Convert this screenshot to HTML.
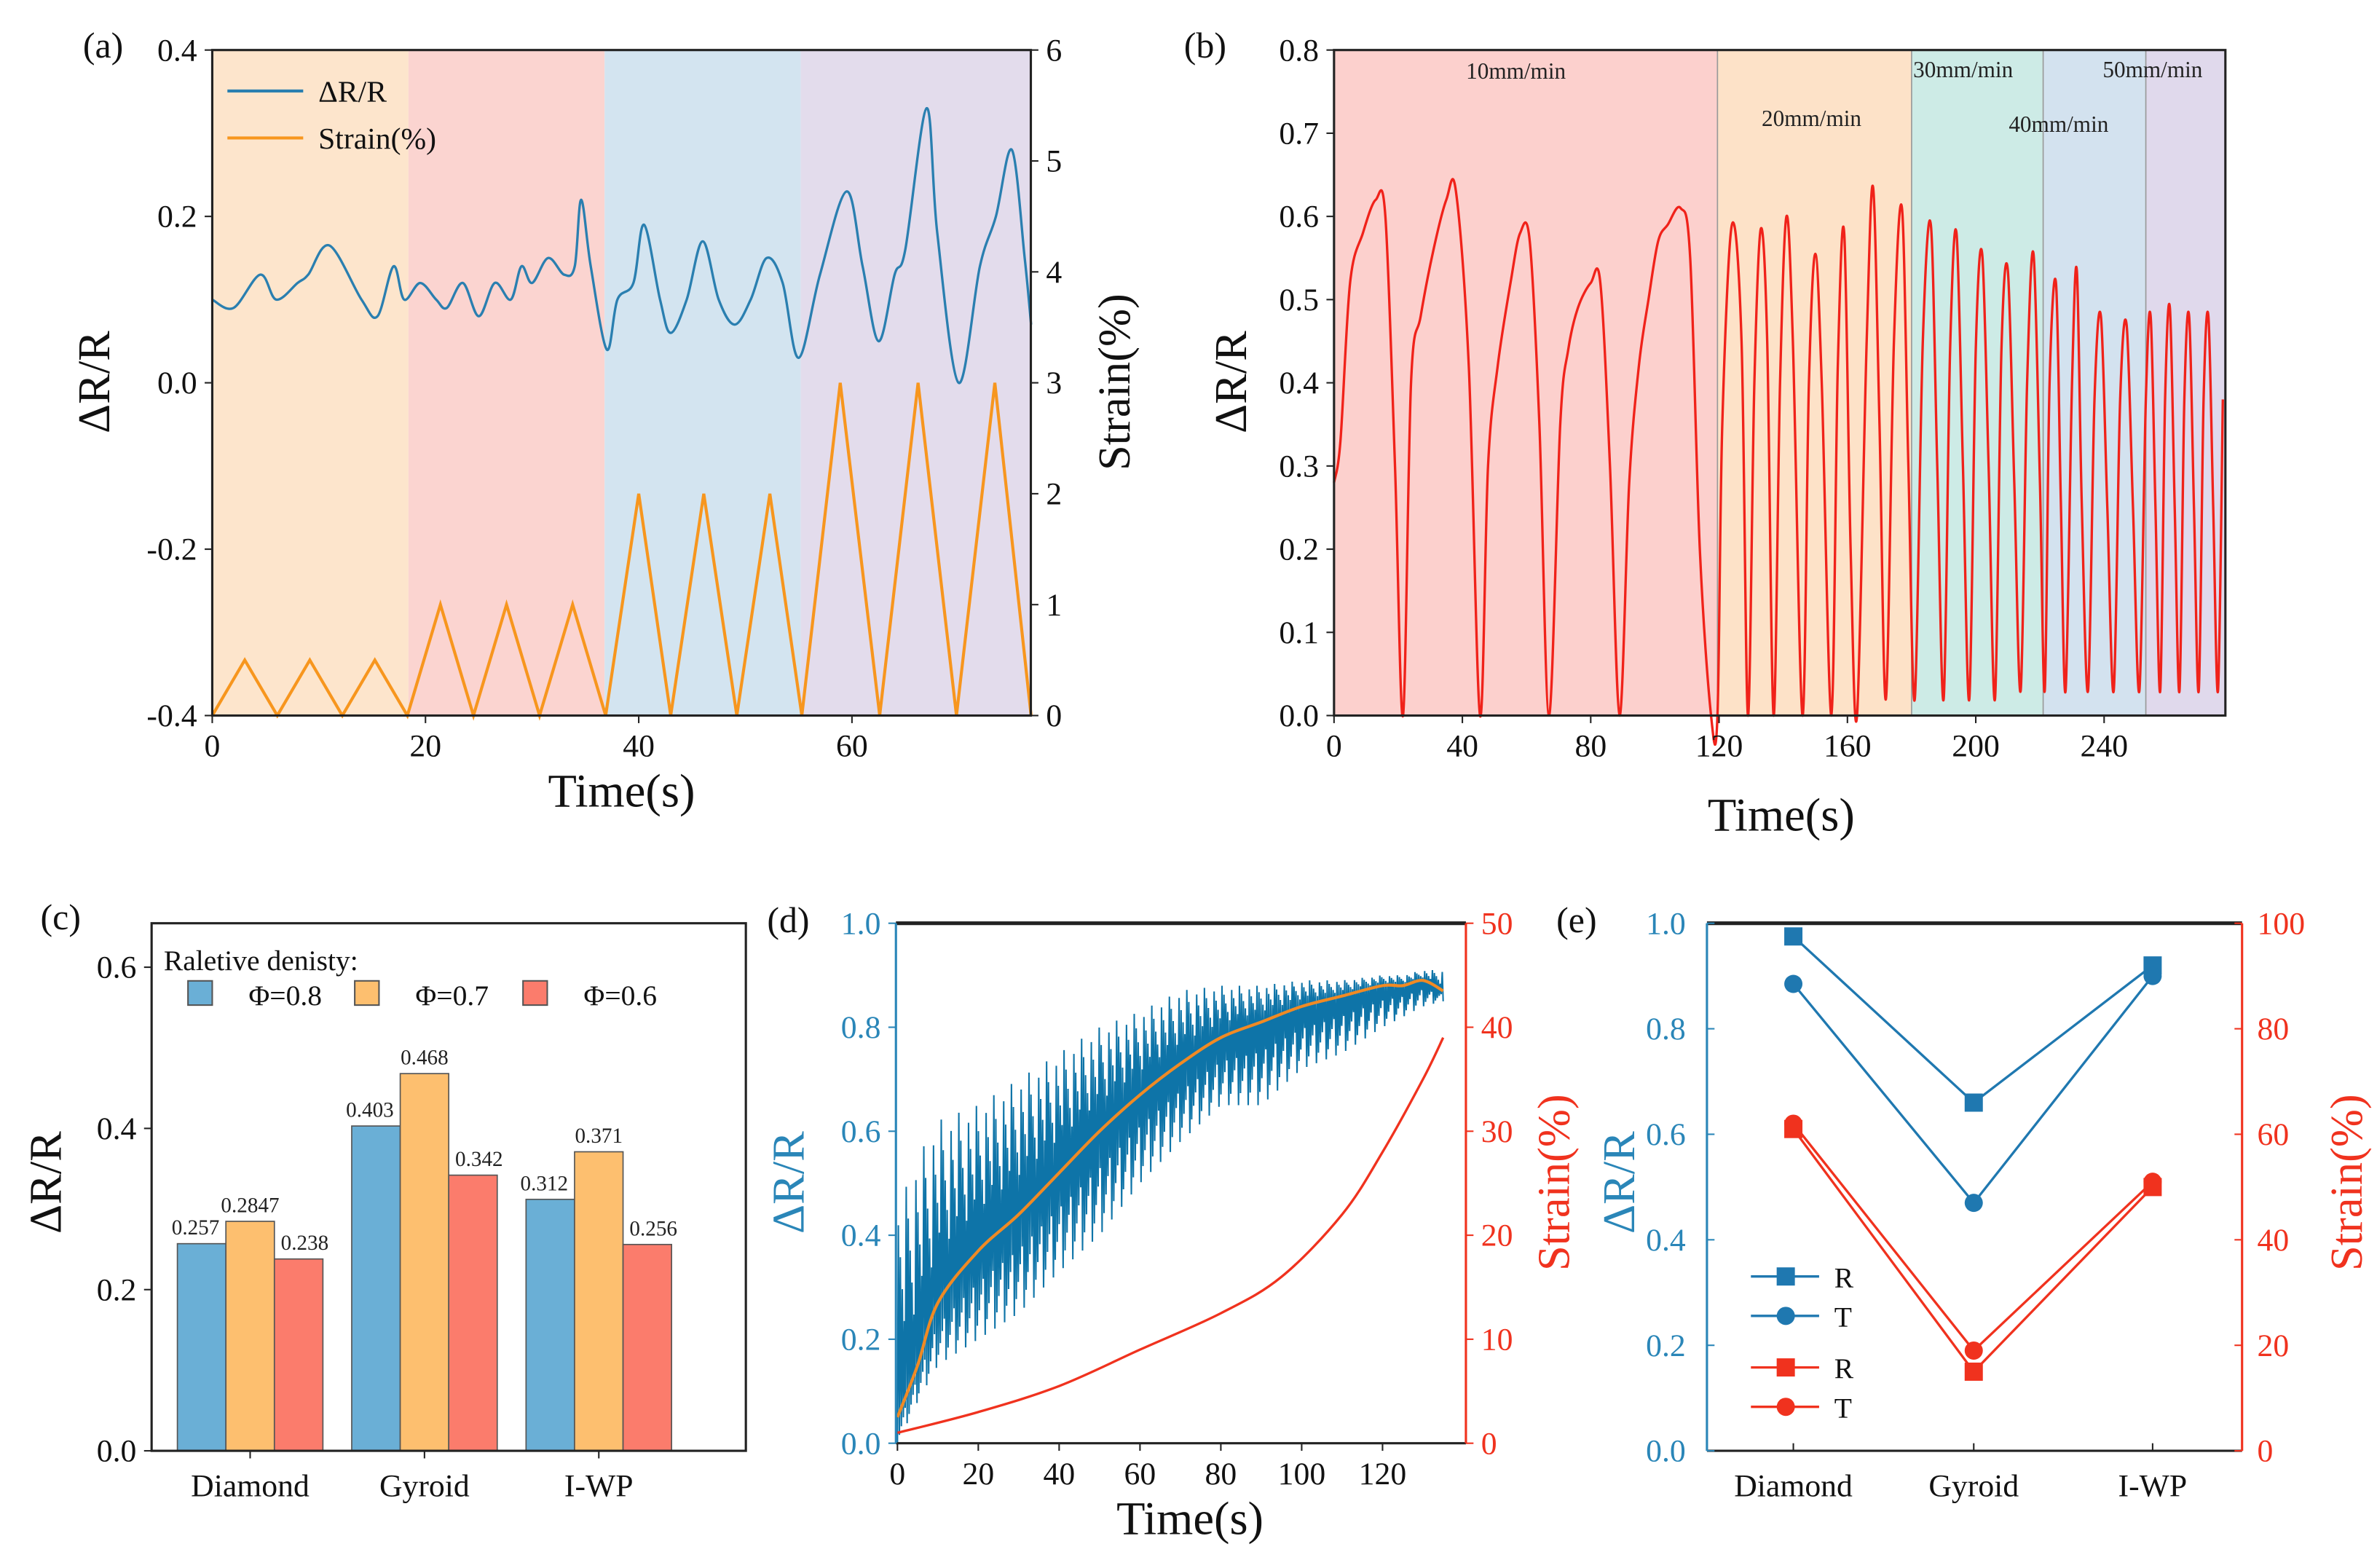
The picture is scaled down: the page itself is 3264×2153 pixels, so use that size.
<!DOCTYPE html>
<html><head><meta charset="utf-8"><style>
html,body{margin:0;padding:0;background:#fff;}
svg{display:block;font-family:"Liberation Serif",serif;}
</style></head><body>
<svg id="fig" xmlns="http://www.w3.org/2000/svg" width="3264" height="2153" viewBox="0 0 1568 1034.3">
<rect width="1568" height="1034.3" fill="#fff"/>
</svg>
<script>
// ---------- DATA ----------
// (a)
const aTimes=[0,2,4.5,6,8,9,11,14,15.5,17,18,19.5,21,22,23.5,25,26.5,28,29,30,31.5,33,34,34.6,35.5,37,38,39.5,40.5,42,43,44.5,46,47.5,49,50.5,52,53.5,55,57,59.5,61,62.5,64,65,67,68,70,72,73.5,75,76.2,76.8];
const aDR=[0.10,0.09,0.13,0.10,0.12,0.13,0.165,0.10,0.08,0.14,0.10,0.12,0.10,0.09,0.12,0.08,0.12,0.10,0.14,0.12,0.15,0.13,0.14,0.22,0.14,0.04,0.10,0.12,0.19,0.10,0.06,0.10,0.17,0.10,0.07,0.10,0.15,0.12,0.03,0.13,0.23,0.14,0.05,0.13,0.16,0.33,0.18,0.00,0.14,0.20,0.28,0.15,0.07];
const aStrainT=[0,3.05,6.1,9.15,12.2,15.25,18.3,21.4,24.5,27.6,30.7,33.8,36.9,40,43,46.1,49.2,52.3,55.3,58.9,62.6,66.2,69.8,73.4,76.8];
const aStrain=[0,0.5,0,0.5,0,0.5,0,1,0,1,0,1,0,2,0,2,0,2,0,3,0,3,0,3,0];
const aBands=[[0,18.4,'#fde5cc'],[18.4,36.8,'#fbd4d0'],[36.8,55.2,'#d3e4f0'],[55.2,76.8,'#e3dcec']];
// (b)
const bTimes=[0,2,5,9,13,16,19,21.5,24,27,31,35,38,42,45.5,48,51,55,58,61,64,67,70.5,73,76,80,83,86,89,92,95,98,101,104,108,111,114,117.5,119.5,121,124,127,129,131,133,135,137,139,141,143,146,148,150,152,155,157,159,161,163,166,168,170,172,174.5,177,179,181,183.5,186,188,190,192,194,196,198,200,202,204,206,208,210,212,214,216,218,220,221.5,223,225,226.5,228,230,231.5,233,235,237,239,241,243,245,247,249,251,253,254.5,256,257.5,259,260.5,262,263.5,265,266.5,268,269.5,271,272.5,274,275.5,277];
const bDR=[0.28,0.33,0.52,0.58,0.62,0.60,0.30,0.0,0.40,0.48,0.56,0.62,0.63,0.42,0.0,0.30,0.42,0.52,0.58,0.57,0.35,0.0,0.35,0.44,0.49,0.52,0.52,0.30,0.0,0.28,0.42,0.50,0.57,0.59,0.61,0.55,0.20,0.0,0.0,0.35,0.59,0.45,0.0,0.40,0.585,0.45,0.0,0.40,0.60,0.45,0.0,0.40,0.555,0.40,0.0,0.42,0.58,0.20,0.0,0.45,0.635,0.35,0.02,0.45,0.61,0.30,0.02,0.45,0.59,0.30,0.02,0.44,0.58,0.30,0.02,0.44,0.555,0.30,0.02,0.44,0.535,0.28,0.03,0.40,0.555,0.28,0.03,0.40,0.52,0.26,0.03,0.40,0.535,0.26,0.03,0.38,0.48,0.25,0.03,0.38,0.47,0.25,0.03,0.38,0.48,0.25,0.03,0.38,0.49,0.25,0.03,0.38,0.48,0.25,0.03,0.38,0.48,0.25,0.03,0.38,0.48,0.28,0.05,0.35,0.45];
const bBands=[[0,119.5,'#fcd0cd'],[119.5,180,'#fde2c8'],[180,221,'#cdebe6'],[221,253,'#d3e2ef'],[253,278,'#e0d9ec']];
const bBandLabels=['10mm/min','20mm/min','30mm/min','40mm/min','50mm/min'];
// (c)
const cCats=['Diamond','Gyroid','I-WP'];
const cPhi08=[0.257,0.403,0.312];
const cPhi07=[0.2847,0.468,0.371];
const cPhi06=[0.238,0.342,0.256];
const cLabels08=['0.257','0.403','0.312'];
const cLabels07=['0.2847','0.468','0.371'];
const cLabels06=['0.238','0.342','0.256'];
// (d)
const dTimes=[0,5,10,20,30,40,50,60,70,80,90,100,110,120,125,130,135];
const dMean=[0.05,0.15,0.27,0.37,0.44,0.52,0.60,0.67,0.73,0.78,0.81,0.84,0.86,0.88,0.88,0.89,0.87];
const dUpper=[0.45,0.55,0.62,0.65,0.70,0.75,0.80,0.83,0.87,0.88,0.88,0.89,0.89,0.90,0.90,0.91,0.91];
const dLower=[0.0,0.08,0.15,0.20,0.25,0.33,0.40,0.50,0.58,0.65,0.65,0.72,0.75,0.80,0.82,0.84,0.85];
const dStrainT=[0,20,40,60,80,95,110,120,130,135];
const dStrain=[1,3,5.5,9,12.5,16,22,28,35,39];
// (e)
const eCats=['Diamond','Gyroid','I-WP'];
const eBlueR=[0.975,0.66,0.92];
const eBlueT=[0.885,0.47,0.90];
const eRedR=[61,15,50];
const eRedT=[62,19,51];

// ---------- HELPERS ----------
const NS='http://www.w3.org/2000/svg';
const svg=document.getElementById('fig');
function el(tag,attrs,parent){const e=document.createElementNS(NS,tag);for(const k in attrs)e.setAttribute(k,attrs[k]);(parent||svg).appendChild(e);return e;}
function txt(x,y,s,size,fill,anchor,parent,rot){const t=el('text',{x:x,y:y,'font-size':size,fill:fill||'#222','text-anchor':anchor||'middle'},parent);if(rot)t.setAttribute('transform','rotate(-90 '+x+' '+y+')');t.textContent=s;return t;}
function lin(d0,d1,r0,r1){return v=>r0+(v-d0)/(d1-d0)*(r1-r0);}
function poly(xs,ys,fx,fy){return xs.map((v,i)=>fx(v).toFixed(2)+','+fy(ys[i]).toFixed(2)).join(' ');}
function smoothPath(xs,ys,fx,fy){let d='M'+fx(xs[0]).toFixed(2)+','+fy(ys[0]).toFixed(2);for(let i=0;i<xs.length-1;i++){const p0=i>0?i-1:i,p3=i+2<xs.length?i+2:i+1;const x0=fx(xs[p0]),y0=fy(ys[p0]),x1=fx(xs[i]),y1=fy(ys[i]),x2=fx(xs[i+1]),y2=fy(ys[i+1]),x3=fx(xs[p3]),y3=fy(ys[p3]);const c1x=x1+(x2-x0)/6,c1y=y1+(y2-y0)/6,c2x=x2-(x3-x1)/6,c2y=y2-(y3-y1)/6;d+=' C'+c1x.toFixed(2)+','+c1y.toFixed(2)+' '+c2x.toFixed(2)+','+c2y.toFixed(2)+' '+x2.toFixed(2)+','+y2.toFixed(2);}return d;}
function interp(xs,ys,x){for(let i=0;i<xs.length-1;i++){if(x<=xs[i+1]){const t=(x-xs[i])/(xs[i+1]-xs[i]);return ys[i]+t*(ys[i+1]-ys[i]);}}return ys[ys.length-1];}

// ---------- PANEL A ----------
(function(){
const g=el('g',{});
const L=140,R=680,T=33,B=472;
const x=lin(0,60,140,562), y=lin(-0.4,0.4,B,T), y2=lin(0,6,B,T);
aBands.forEach(b=>{const r=el('rect',{x:x(b[0]),y:T,width:Math.min(x(b[1]),R)-x(b[0]),height:B-T,fill:b[2]},g);});
const s=el('polyline',{points:poly(aStrainT,aStrain,x,y2),fill:'none',stroke:'#f7961e','stroke-width':2},g);

const d=el('path',{d:smoothPath(aTimes,aDR,x,y),fill:'none',stroke:'#2a7fb0','stroke-width':1.6,'stroke-linejoin':'round'},g);

el('rect',{x:L,y:T,width:R-L,height:B-T,fill:'none',stroke:'#222','stroke-width':1.5},g);
[-0.4,-0.2,0,0.2,0.4].forEach(v=>{el('line',{x1:L,x2:L-5,y1:y(v),y2:y(v),stroke:'#222'},g);txt(L-10,y(v)+7,v.toFixed(1),21,'#111','end',g);});
[0,1,2,3,4,5,6].forEach(v=>{el('line',{x1:R,x2:R+5,y1:y2(v),y2:y2(v),stroke:'#222'},g);txt(R+10,y2(v)+7,String(v),21,'#111','start',g);});
[0,20,40,60].forEach(v=>{el('line',{x1:x(v),x2:x(v),y1:B,y2:B+5,stroke:'#222'},g);txt(x(v),B+27,String(v),21,'#111','middle',g);});
txt(410,532,'Time(s)',31,'#111','middle',g);
txt(72,252,'ΔR/R',30,'#111','middle',g,true);
txt(745,252,'Strain(%)',30,'#111','middle',g,true);
txt(68,38,'(a)',24,'#111','middle',g);
el('line',{x1:150,x2:200,y1:60,y2:60,stroke:'#2a7fb0','stroke-width':2},g);txt(210,67,'ΔR/R',20,'#111','start',g);
el('line',{x1:150,x2:200,y1:91,y2:91,stroke:'#f7961e','stroke-width':2},g);txt(210,98,'Strain(%)',20,'#111','start',g);
})();

// ---------- PANEL B ----------
(function(){
const g=el('g',{});
const L=880,R=1468,T=33,B=472;
const x=lin(0,240,880,1388), y=lin(0,0.8,B,T);
bBands.forEach((b,i)=>{const r=el('rect',{x:x(b[0]),y:T,width:Math.min(x(b[1]),R)-x(b[0]),height:B-T,fill:b[2]},g);
 if(i>0)el('line',{x1:x(b[0]),x2:x(b[0]),y1:T,y2:B,stroke:'#999','stroke-width':0.8},g);});
const lp=[[1000,52],[1195,83],[1295,51],[1358,87],[1420,51]];
bBandLabels.forEach((s,i)=>txt(lp[i][0],lp[i][1],s,15,'#222','middle',g));
const d=el('path',{d:smoothPath(bTimes,bDR,x,y),fill:'none',stroke:'#f0221a','stroke-width':1.6,'stroke-linejoin':'round'},g);

el('rect',{x:L,y:T,width:R-L,height:B-T,fill:'none',stroke:'#222','stroke-width':1.5},g);
for(let v=0;v<=0.8001;v+=0.1){el('line',{x1:L,x2:L-5,y1:y(v),y2:y(v),stroke:'#222'},g);txt(L-10,y(v)+7,v.toFixed(1),21,'#111','end',g);}
[0,40,80,120,160,200,240].forEach(v=>{el('line',{x1:x(v),x2:x(v),y1:B,y2:B+5,stroke:'#222'},g);txt(x(v),B+27,String(v),21,'#111','middle',g);});
txt(1175,548,'Time(s)',31,'#111','middle',g);
txt(822,252,'ΔR/R',30,'#111','middle',g,true);
txt(795,38,'(b)',24,'#111','middle',g);
})();

// ---------- PANEL C ----------
(function(){
const g=el('g',{});
const L=100,R=492,T=609,B=957;
const y=lin(0,0.6,B,638);
const cx=[165,280,395], bw=32;
const series=[[cPhi08,cLabels08,'#6aafd6',-bw],[cPhi07,cLabels07,'#fdbf6f',0],[cPhi06,cLabels06,'#fb7c6c',bw]];
series.forEach(s=>{s[0].forEach((v,i)=>{const r=el('rect',{x:cx[i]+s[3]-bw/2,y:y(v),width:bw,height:B-y(v),fill:s[2],stroke:'#555','stroke-width':0.8},g);
 
 txt(cx[i]+s[3]-(s[3]<0?4:s[3]>0?-4:0),y(v)-6,s[1][i],14,'#222','middle',g);});});
el('rect',{x:L,y:T,width:R-L,height:B-T,fill:'none',stroke:'#222','stroke-width':1.5},g);
[0,0.2,0.4,0.6].forEach(v=>{el('line',{x1:L,x2:L-5,y1:y(v),y2:y(v),stroke:'#222'},g);txt(L-10,y(v)+7,v.toFixed(1),21,'#111','end',g);});
cCats.forEach((c,i)=>{el('line',{x1:cx[i],x2:cx[i],y1:B,y2:B+5,stroke:'#222'},g);txt(cx[i],B+30,c,21,'#111','middle',g);});
txt(40,780,'ΔR/R',30,'#111','middle',g,true);
txt(40,613,'(c)',24,'#111','middle',g);
txt(108,640,'Raletive denisty:',19,'#111','start',g);
[['#6aafd6','Φ=0.8',124],['#fdbf6f','Φ=0.7',234],['#fb7c6c','Φ=0.6',345]].forEach(e=>{el('rect',{x:e[2],y:647,width:16,height:16,fill:e[0],stroke:'#555'},g);txt(e[2]+40,663,e[1],19,'#111','start',g);});
})();

// ---------- PANEL D ----------
(function(){
const g=el('g',{});
const L=591,R=967,T=609,B=952;
const x=lin(0,120,592,912), y=lin(0,1,B,T), y2=lin(0,50,B,T);
let pts=[];const N=560;
for(let i=0;i<=N;i++){const t=135*i/N;const lo=interp(dTimes,dLower,t),mn=interp(dTimes,dMean,t),up=interp(dTimes,dUpper,t);const v=(i%2===0)?lo+((i%10)/10)*0.8*(mn-lo):up-((i%9)/9)*0.8*(up-mn);pts.push(x(t).toFixed(1)+','+y(v).toFixed(1));}
const n=el('polyline',{points:pts.join(' '),fill:'none',stroke:'#0e74a8','stroke-width':1},g);

const m=el('path',{d:smoothPath(dTimes,dMean,x,y),fill:'none',stroke:'#f08a24','stroke-width':2},g);

const s=el('path',{d:smoothPath(dStrainT,dStrain,x,y2),fill:'none',stroke:'#f0321e','stroke-width':1.6},g);

el('line',{x1:L,x2:R,y1:T,y2:T,stroke:'#222','stroke-width':2.5},g);
el('line',{x1:L,x2:R,y1:B,y2:B,stroke:'#222','stroke-width':1.5},g);
el('line',{x1:L,x2:L,y1:T,y2:B,stroke:'#2a86b8','stroke-width':1.5},g);
el('line',{x1:R,x2:R,y1:T,y2:B,stroke:'#f0321e','stroke-width':1.5},g);
[0,0.2,0.4,0.6,0.8,1.0].forEach(v=>{el('line',{x1:L,x2:L-5,y1:y(v),y2:y(v),stroke:'#2a86b8'},g);txt(L-10,y(v)+7,v.toFixed(1),21,'#2a86b8','end',g);});
[0,10,20,30,40,50].forEach(v=>{el('line',{x1:R,x2:R+5,y1:y2(v),y2:y2(v),stroke:'#f0321e'},g);txt(R+10,y2(v)+7,String(v),21,'#f0321e','start',g);});
[0,20,40,60,80,100,120].forEach(v=>{el('line',{x1:x(v),x2:x(v),y1:B,y2:B+5,stroke:'#222'},g);txt(x(v),B+27,String(v),21,'#111','middle',g);});
txt(785,1012,'Time(s)',31,'#111','middle',g);
txt(530,780,'ΔR/R',30,'#2a86b8','middle',g,true);
txt(1035,780,'Strain(%)',30,'#f0321e','middle',g,true);
txt(520,615,'(d)',24,'#111','middle',g);
})();

// ---------- PANEL E ----------
(function(){
const g=el('g',{});
const L=1126,R=1479,T=609,B=957;
const y=lin(0,1,B,T), y2=lin(0,100,B,T);
const cx=[1183,1302,1420];
function series(vals,fy,color,shape,name){
 const p=el('polyline',{points:vals.map((v,i)=>cx[i]+','+fy(v)).join(' '),fill:'none',stroke:color,'stroke-width':1.6},g);
 
 vals.forEach((v,i)=>{if(shape==='s')el('rect',{x:cx[i]-6,y:fy(v)-6,width:12,height:12,fill:color},g);else el('circle',{cx:cx[i],cy:fy(v),r:6,fill:color},g);});
}
series(eBlueR,y,'#1f78b0','s','blue-r-line');
series(eBlueT,y,'#1f78b0','c','blue-t-line');
series(eRedR,y2,'#f0321e','s','red-r-line');
series(eRedT,y2,'#f0321e','c','red-t-line');
el('line',{x1:L,x2:R,y1:T,y2:T,stroke:'#222','stroke-width':2.5},g);
el('line',{x1:L,x2:R,y1:B,y2:B,stroke:'#222','stroke-width':1.5},g);
el('line',{x1:L,x2:L,y1:T,y2:B,stroke:'#2a86b8','stroke-width':1.5},g);
el('line',{x1:R,x2:R,y1:T,y2:B,stroke:'#f0321e','stroke-width':1.5},g);
[0,0.2,0.4,0.6,0.8,1.0].forEach(v=>{el('line',{x1:L,x2:L+5,y1:y(v),y2:y(v),stroke:'#2a86b8'},g);txt(L-14,y(v)+7,v.toFixed(1),21,'#2a86b8','end',g);});
[0,20,40,60,80,100].forEach(v=>{el('line',{x1:R,x2:R-5,y1:y2(v),y2:y2(v),stroke:'#f0321e'},g);txt(R+10,y2(v)+7,String(v),21,'#f0321e','start',g);});
eCats.forEach((c,i)=>{el('line',{x1:cx[i],x2:cx[i],y1:B,y2:B-5,stroke:'#222'},g);txt(cx[i],B+30,c,21,'#111','middle',g);});
txt(1078,780,'ΔR/R',30,'#2a86b8','middle',g,true);
txt(1558,780,'Strain(%)',30,'#f0321e','middle',g,true);
txt(1040,615,'(e)',24,'#111','middle',g);
[[842,'#1f78b0','s','R'],[868,'#1f78b0','c','T'],[902,'#f0321e','s','R'],[928,'#f0321e','c','T']].forEach(e=>{
 el('line',{x1:1155,x2:1200,y1:e[0],y2:e[0],stroke:e[1],'stroke-width':1.6},g);
 if(e[2]==='s')el('rect',{x:1172,y:e[0]-6,width:12,height:12,fill:e[1]},g);else el('circle',{cx:1178,cy:e[0],r:6,fill:e[1]},g);
 txt(1210,e[0]+7,e[3],19,'#111','start',g);});
})();
</script>
</body></html>
